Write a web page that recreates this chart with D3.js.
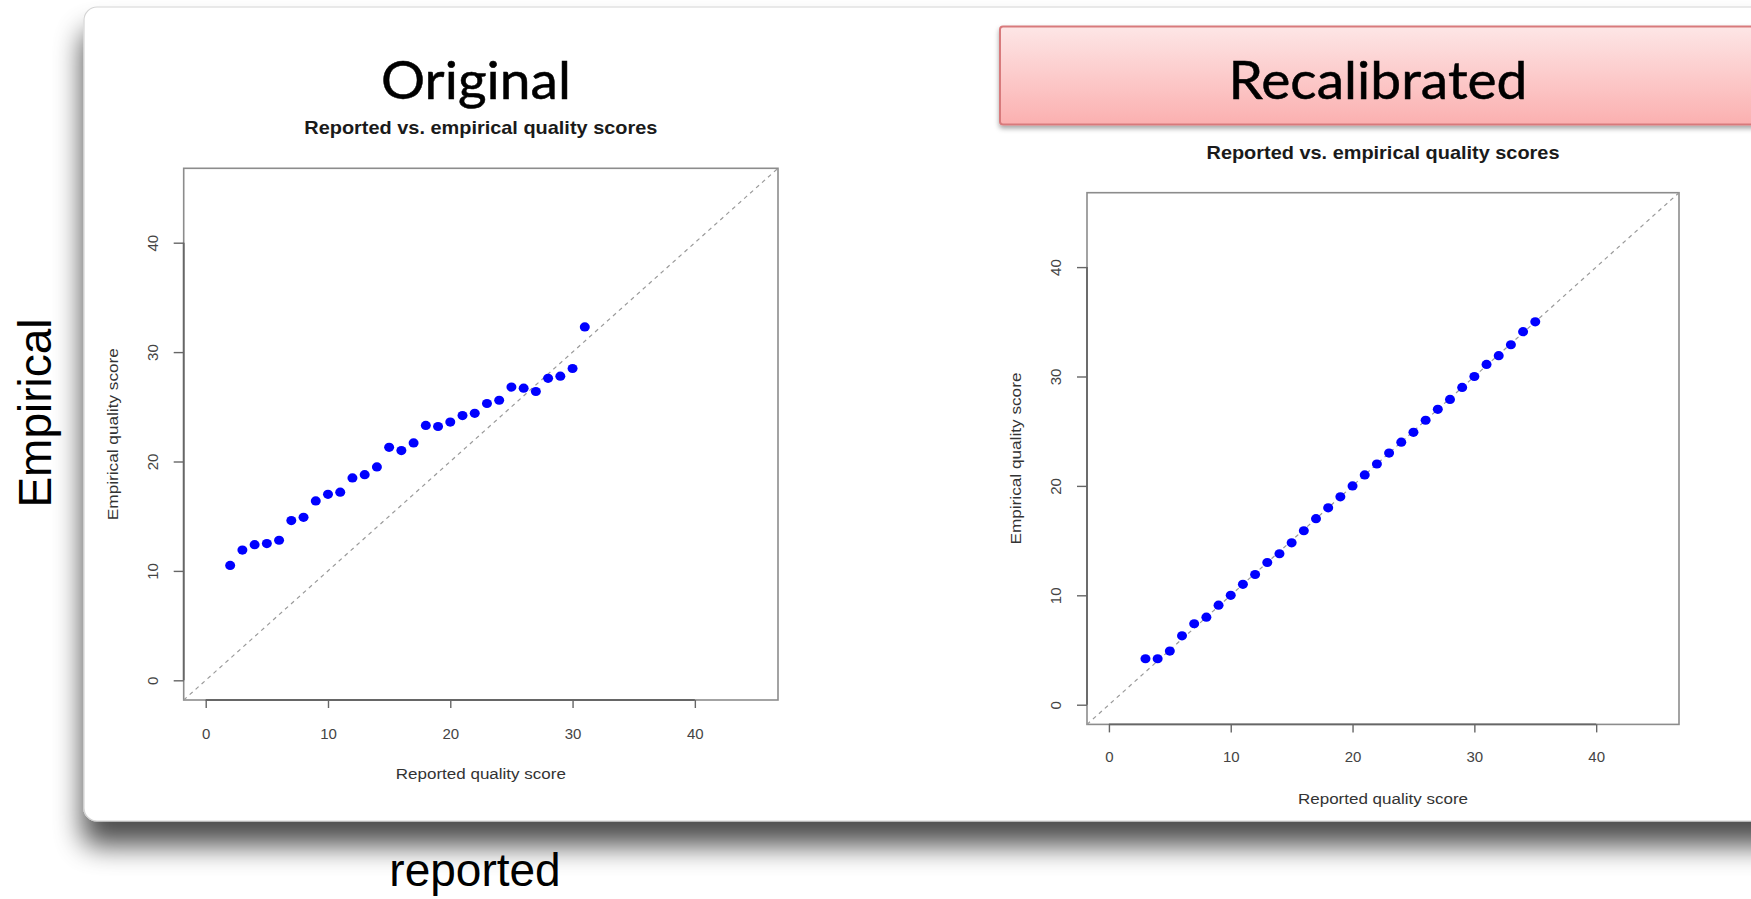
<!DOCTYPE html>
<html>
<head>
<meta charset="utf-8">
<script src="https://cdn.jsdelivr.net/npm/d3@7"></script>
<style>
  html, body { margin: 0; padding: 0; background: #ffffff; }
  svg { display: block; }
</style>
</head>
<body>
<svg id="chart" width="1751" height="899"></svg>
<script>
// ---------------- data ----------------
const panelTitles = ["Original", "Recalibrated"];
const subTitle = "Reported vs. empirical quality scores";
const xAxisTitle = "Reported quality score";
const yAxisTitle = "Empirical quality score";
const tickValues = [0, 10, 20, 30, 40];
const axisDomain = [-1.8, 46.8];

const originalReported = [2,3,4,5,6,7,8,9,10,11,12,13,14,15,16,17,18,19,20,21,22,23,24,25,26,27,28,29,30,31];
const originalEmpirical = [10.5,11.9,12.4,12.5,12.8,14.6,14.9,16.4,17.0,17.2,18.5,18.8,19.5,21.3,21.0,21.7,23.3,23.2,23.6,24.2,24.4,25.3,25.6,26.8,26.7,26.4,27.6,27.8,28.5,32.3];

const recalReported = [3,4,5,6,7,8,9,10,11,12,13,14,15,16,17,18,19,20,21,22,23,24,25,26,27,28,29,30,31,32,33,34,35];
const recalEmpirical = [4.2,4.2,4.9,6.3,7.4,8.0,9.1,10.0,11.0,11.9,13.0,13.8,14.8,15.9,17.0,18.0,19.0,20.0,21.0,22.0,23.0,24.0,24.9,26.0,27.0,27.9,29.0,30.0,31.1,31.9,32.9,34.1,35.0];

const outerLabelY = "Empirical";
const outerLabelX = "reported";

// ---------------- drawing ----------------
const svg = d3.select("#chart");
const defs = svg.append("defs");

// shadow filter for the slide panel
const sh = defs.append("filter").attr("id", "panelShadow")
  .attr("x", "-10%").attr("y", "-10%").attr("width", "130%").attr("height", "140%");
sh.append("feGaussianBlur").attr("in", "SourceAlpha").attr("stdDeviation", 14).attr("result", "b");
sh.append("feOffset").attr("in", "b").attr("dx", -1).attr("dy", 24).attr("result", "o");
sh.append("feComponentTransfer").attr("in", "o").attr("result", "o2")
  .append("feFuncA").attr("type", "linear").attr("slope", 0.7);
const shm = sh.append("feMerge");
shm.append("feMergeNode").attr("in", "o2");
shm.append("feMergeNode").attr("in", "SourceGraphic");

// red title box gradient + shadow
const rg = defs.append("linearGradient").attr("id", "redGrad")
  .attr("x1", 0).attr("y1", 0).attr("x2", 0).attr("y2", 1);
rg.append("stop").attr("offset", "0%").attr("stop-color", "#fde6e6");
rg.append("stop").attr("offset", "100%").attr("stop-color", "#fbb0b0");
const rs = defs.append("filter").attr("id", "redShadow")
  .attr("x", "-5%").attr("y", "-10%").attr("width", "110%").attr("height", "130%");
rs.append("feDropShadow").attr("dx", 0).attr("dy", 3).attr("stdDeviation", 2.5)
  .attr("flood-color", "#000").attr("flood-opacity", 0.35);

// slide panel
svg.append("rect")
  .attr("x", 84).attr("y", 7).attr("width", 1800).attr("height", 814)
  .attr("rx", 13).attr("ry", 13)
  .attr("fill", "#ffffff").attr("stroke", "#d4d4d4").attr("stroke-width", 1.2)
  .attr("filter", "url(#panelShadow)");

// red header box for the second panel
svg.append("rect")
  .attr("x", 1000).attr("y", 26.5).attr("width", 800).attr("height", 98)
  .attr("rx", 3)
  .attr("fill", "url(#redGrad)").attr("stroke", "#d87a7c").attr("stroke-width", 2)
  .attr("filter", "url(#redShadow)");

const rFont = "'Liberation Sans', Arial, Helvetica, sans-serif";

function drawPlot(cfg) {
  const x = d3.scaleLinear().domain(axisDomain).range(cfg.xr);
  const y = d3.scaleLinear().domain(axisDomain).range(cfg.yr);
  const g = svg.append("g");

  // big title
  g.append("text")
    .attr("x", cfg.titleX).attr("y", 99)
    .attr("text-anchor", "middle")
    .attr("font-family", "Lato, 'Open Sans', sans-serif")
    .attr("font-size", 53)
    .attr("textLength", cfg.titleLen).attr("lengthAdjust", "spacingAndGlyphs")
    .attr("fill", "#000").attr("stroke", "#000").attr("stroke-width", 0.5)
    .text(cfg.title);

  // subtitle
  g.append("text")
    .attr("x", (cfg.xr[0] + cfg.xr[1]) / 2).attr("y", cfg.subY)
    .attr("text-anchor", "middle")
    .attr("font-family", rFont).attr("font-weight", "bold")
    .attr("font-size", 18.5)
    .attr("textLength", 353).attr("lengthAdjust", "spacingAndGlyphs")
    .attr("fill", "#1a1a1a")
    .text(subTitle);

  // plot frame
  g.append("rect")
    .attr("x", cfg.xr[0]).attr("y", cfg.yr[1])
    .attr("width", cfg.xr[1] - cfg.xr[0]).attr("height", cfg.yr[0] - cfg.yr[1])
    .attr("fill", "#fff").attr("stroke", "#8c8c8c").attr("stroke-width", 1.6);

  // identity dashed line
  g.append("line")
    .attr("x1", x(axisDomain[0])).attr("y1", y(axisDomain[0]))
    .attr("x2", x(axisDomain[1])).attr("y2", y(axisDomain[1]))
    .attr("stroke", "#9a9a9a").attr("stroke-width", 1.2)
    .attr("stroke-dasharray", "4,4");

  // x axis
  const xa = g.append("g").attr("transform", `translate(0,${cfg.yr[0]})`)
    .call(d3.axisBottom(x).tickValues(tickValues).tickSize(8).tickSizeOuter(0).tickFormat(d3.format("d")));
  xa.select(".domain").remove();
  xa.selectAll(".tick line").attr("stroke", "#666").attr("stroke-width", 1.4);
  xa.selectAll(".tick text")
    .attr("y", 0).attr("dy", 0)
    .attr("transform", `translate(0,${cfg.xTickBase - cfg.yr[0]})`)
    .attr("font-family", rFont).attr("font-size", 15).attr("fill", "#444");
  g.append("line")
    .attr("x1", x(tickValues[0])).attr("x2", x(tickValues[tickValues.length - 1]))
    .attr("y1", cfg.yr[0]).attr("y2", cfg.yr[0])
    .attr("stroke", "#666").attr("stroke-width", 1.8);

  // y axis
  const ya = g.append("g").attr("transform", `translate(${cfg.xr[0]},0)`)
    .call(d3.axisLeft(y).tickValues(tickValues).tickSize(10).tickSizeOuter(0).tickFormat(d3.format("d")));
  ya.select(".domain").remove();
  ya.selectAll(".tick line").attr("stroke", "#666").attr("stroke-width", 1.4);
  ya.selectAll(".tick text")
    .attr("transform", "rotate(-90)")
    .attr("x", 0).attr("y", -26).attr("dy", 0)
    .attr("text-anchor", "middle")
    .attr("font-family", rFont).attr("font-size", 15).attr("fill", "#444");
  g.append("line")
    .attr("x1", cfg.xr[0]).attr("x2", cfg.xr[0])
    .attr("y1", y(tickValues[0])).attr("y2", y(tickValues[tickValues.length - 1]))
    .attr("stroke", "#666").attr("stroke-width", 1.8);

  // axis titles
  g.append("text")
    .attr("x", (cfg.xr[0] + cfg.xr[1]) / 2).attr("y", cfg.xTitleBase)
    .attr("text-anchor", "middle")
    .attr("font-family", rFont).attr("font-size", 15.5)
    .attr("textLength", 170).attr("lengthAdjust", "spacingAndGlyphs")
    .attr("fill", "#333").text(xAxisTitle);
  g.append("text")
    .attr("transform", `translate(${cfg.xr[0] - 66},${(cfg.yr[0] + cfg.yr[1]) / 2}) rotate(-90)`)
    .attr("text-anchor", "middle")
    .attr("font-family", rFont).attr("font-size", 15.5)
    .attr("textLength", 172).attr("lengthAdjust", "spacingAndGlyphs")
    .attr("fill", "#333").text(yAxisTitle);

  // points
  g.append("g").selectAll("ellipse")
    .data(cfg.xs.map((d, i) => [d, cfg.ys[i]]))
    .join("ellipse")
    .attr("cx", d => x(d[0])).attr("cy", d => y(d[1]))
    .attr("rx", 5).attr("ry", 4.6)
    .attr("fill", "#0000ff");
}

drawPlot({
  title: panelTitles[0], titleX: 476, titleLen: 190,
  subY: 134,
  xr: [183.7, 778], yr: [700, 168.3],
  xTickBase: 739, xTitleBase: 779,
  xs: originalReported, ys: originalEmpirical
});

drawPlot({
  title: panelTitles[1], titleX: 1378, titleLen: 299,
  subY: 159,
  xr: [1087, 1679], yr: [724.4, 192.7],
  xTickBase: 762, xTitleBase: 804,
  xs: recalReported, ys: recalEmpirical
});

// outer labels
svg.append("text")
  .attr("transform", "translate(51,413) rotate(-90)")
  .attr("text-anchor", "middle")
  .attr("font-family", rFont).attr("font-size", 46)
  .attr("fill", "#000").text(outerLabelY);

svg.append("text")
  .attr("x", 475).attr("y", 886)
  .attr("text-anchor", "middle")
  .attr("font-family", rFont).attr("font-size", 46)
  .attr("fill", "#000").text(outerLabelX);
</script>
</body>
</html>
